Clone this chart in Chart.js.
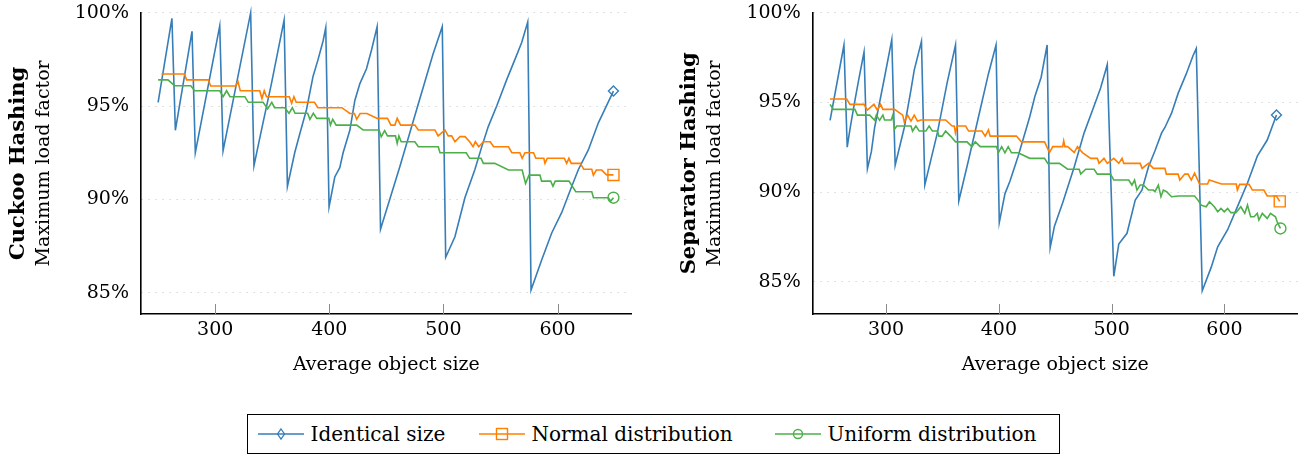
<!DOCTYPE html>
<html>
<head>
<meta charset="utf-8">
<script src="https://cdn.jsdelivr.net/npm/chart.js@4.4.0/dist/chart.umd.min.js"></script>
<style>
  body { margin: 0; background: #fff; width: 1307px; height: 457px; position: relative; overflow: hidden; font-family: "DejaVu Serif", serif; }
  #cuckooChart { position: absolute; left: 0; top: 0; }
  #separatorChart { position: absolute; left: 657px; top: 0; }
  #legend { position: absolute; left: 247px; top: 414px; width: 811px; height: 38px; border: 1.5px solid #000; }
  .item { position: absolute; top: 0; height: 38px; display: flex; align-items: center; font-size: 20px; white-space: nowrap; }
  .item svg { margin-right: 7px; }
</style>
</head>
<body>
<canvas id="cuckooChart" width="650" height="400"></canvas>
<canvas id="separatorChart" width="650" height="400"></canvas>
<div id="legend"></div>
<script>
// x ticks and y ticks
const xTickValues = [300, 400, 500, 600];
const yTickValues = [85, 90, 95, 100];
const seriesNames = ['Identical size', 'Normal distribution', 'Uniform distribution'];
const seriesColors = ['#377eb8', '#ff7f00', '#4daf4a'];

// Cuckoo Hashing: [average object size, maximum load factor %]
const cuckooIdentical = [[250,95.2],[262.1,99.7],[265.1,93.7],[279.7,99.0],[282.6,92.5],[304,99.3],[306.9,92.6],[331.1,100.0],[334,91.8],[340.5,93.7],[349.3,96.2],[360.4,99.6],[363.3,90.7],[369.7,92.5],[374.1,93.5],[380,94.8],[385.8,96.6],[390.2,97.5],[394.6,98.5],[396.9,99.2],[399.8,89.6],[404.8,91.2],[409.2,91.7],[412.1,92.5],[418,93.7],[422.4,95.3],[426.8,96.2],[432.6,97.0],[437,98.0],[441.9,99.25],[444.9,88.4],[461.8,91.75],[476.5,94.8],[491,97.8],[499,99.25],[502,86.9],[510.1,88.0],[518.9,90.1],[527.6,91.6],[533.5,92.8],[539.3,93.9],[546.7,95.0],[555.4,96.4],[562.7,97.5],[568.6,98.4],[573.9,99.5],[576.8,85.15],[586.1,86.75],[594.9,88.2],[603.7,89.3],[612.5,90.7],[618.3,91.6],[627,92.65],[635.8,94.1],[649,95.8]];
const cuckooNormal = [[253,96.72],[273,96.72],[275,96.4],[294,96.4],[296,96.07],[318,96.07],[320,96.3],[322,95.82],[339,95.82],[341,95.4],[343,95.82],[345,95.5],[365,95.5],[367,95.15],[369,95.5],[371,95.2],[387,95.2],[390,94.91],[411,94.91],[418,94.6],[422,94.6],[424,94.29],[427,94.6],[433,94.6],[442,94.34],[451,94.34],[454,93.98],[457.5,93.98],[459.5,94.34],[462.5,93.98],[475,93.98],[478,93.72],[492.5,93.72],[495.4,93.4],[501.3,93.72],[504.2,93.4],[507.2,93.4],[510.1,93.09],[514.5,93.36],[519,93.36],[523,93.09],[526,92.82],[528,93.09],[531,92.82],[535,93.09],[541,93.09],[544,92.82],[557,92.82],[560,92.5],[567,92.5],[569,92.2],[571.5,92.5],[579,92.5],[581,92.2],[588,92.2],[589,91.93],[591,92.2],[606,92.2],[608,91.93],[610,92.2],[612,91.93],[620,91.93],[623,91.61],[630,91.61],[631.4,91.3],[634,91.57],[638.7,91.57],[643,91.31],[649,91.31]];
const cuckooUniform = [[250,96.4],[258.6,96.4],[264.5,96.09],[278.6,96.09],[282,95.82],[304,95.82],[307,95.5],[310,95.82],[313,95.5],[326,95.5],[329,95.2],[342,95.2],[346,94.85],[349.6,95.2],[352,94.91],[361,94.91],[364.7,94.61],[367.6,94.91],[370,94.61],[381,94.61],[383,94.29],[386,94.61],[389,94.34],[399.6,94.34],[401,93.98],[403,94.29],[406,93.98],[424,93.98],[429.6,93.72],[443.6,93.72],[445.5,93.35],[448.5,93.68],[451,93.4],[458,93.4],[459.5,93.0],[461,93.4],[463,93.09],[475,93.09],[478,92.82],[495.5,92.82],[497,92.5],[520,92.5],[523,92.2],[533,92.2],[535,91.93],[545,91.93],[557,91.57],[569,91.57],[572,90.85],[575,91.3],[584.6,91.3],[586,90.98],[594,90.98],[596,90.7],[598,90.98],[610,90.98],[616,90.41],[630,90.41],[631.5,90.09],[644.6,90.09],[646.5,89.9],[649,90.09]];

// Separator Hashing
const separatorIdentical = [[250.4,94.0],[262.7,98.2],[265.6,92.5],[268,93.5],[272.4,95.1],[275.3,96.1],[280.5,97.8],[283.5,91.3],[287,92.25],[289.9,93.6],[298.7,96.4],[305.1,98.5],[308.1,91.5],[316.2,93.6],[322.1,95.7],[325,96.8],[331.4,98.4],[334.4,90.4],[345.5,93.3],[354.2,96.1],[361.6,98.2],[364.5,89.5],[373.2,91.8],[382,94.2],[390.8,96.6],[397.5,98.2],[400.4,88.3],[405.4,89.9],[409.8,90.6],[417.1,92.0],[427.4,94.2],[431.8,95.3],[437.5,96.4],[442.8,98.2],[445.5,86.9],[449.3,88.1],[456.6,89.4],[466.8,91.4],[475.6,93.3],[484.4,94.8],[490.2,95.8],[496.1,97.1],[501.9,85.3],[506.3,87.1],[513.6,87.7],[520.9,89.55],[526.8,90.1],[532.6,91.4],[538.4,92.3],[544.3,93.3],[547.2,93.6],[553.1,94.4],[558.9,95.5],[566.2,96.6],[572.1,97.6],[575,98.0],[580.3,84.5],[588.2,85.8],[594,86.95],[602.8,87.9],[611.6,89.2],[620.4,90.5],[629.1,92.0],[637.9,92.9],[646.1,94.3]];
const separatorNormal = [[250.4,95.19],[265.1,95.19],[268,94.89],[280.4,94.89],[283.5,94.57],[289.3,94.89],[292.3,94.57],[295.2,94.89],[297.2,94.61],[307.5,94.61],[314.8,94.29],[316.2,93.9],[319.1,94.29],[322.1,93.96],[325,94.29],[327.9,93.96],[330.9,94.02],[352.8,94.02],[358.6,93.68],[360.5,93.68],[361.5,93.3],[363,93.68],[370.6,93.68],[373.2,93.4],[384.9,93.4],[387.9,93.12],[390.8,93.46],[392.3,93.12],[415.6,93.12],[420,92.8],[440.5,92.8],[444.9,92.2],[447.8,92.53],[456.6,92.53],[457.5,92.85],[458.6,92.53],[461,92.53],[466.8,92.2],[469.7,92.53],[474.1,92.2],[481.4,91.88],[487.3,91.88],[488.8,91.6],[493.2,91.88],[496.1,91.6],[501.9,91.88],[506.3,91.6],[509.2,91.88],[510.7,91.6],[525.3,91.6],[527,91.32],[532.6,91.6],[537,91.32],[547.2,91.32],[548.5,91.0],[558.9,91.0],[560.4,90.67],[564.8,91.0],[567.7,91.0],[570.6,90.67],[573.5,91.05],[577.9,90.45],[585,90.45],[586.5,90.67],[597.4,90.45],[610.5,90.45],[611.4,90.11],[613.4,90.43],[621.8,90.43],[624.7,90.11],[634.9,90.11],[637.9,89.78],[646,89.78],[649,89.48]];
const separatorUniform = [[250.4,94.89],[253.3,94.61],[272.4,94.61],[274.7,94.29],[285.5,94.29],[289.9,94.0],[291.4,94.29],[294.3,94.0],[297.2,94.29],[298.7,94.02],[304.6,94.02],[306,94.29],[307.5,93.5],[309.5,93.68],[322.1,93.68],[323.5,93.4],[326.5,93.68],[329.4,93.4],[335.3,93.4],[338.2,93.68],[341.1,93.4],[345.5,93.4],[346.9,93.12],[349.8,93.12],[352.8,93.4],[357.2,93.12],[361.6,92.8],[371.8,92.8],[376.1,92.53],[379.1,92.8],[383.5,92.53],[398,92.53],[399.6,92.19],[402.5,92.53],[405.4,92.19],[408.3,92.53],[411.2,92.19],[417.1,92.19],[427.4,91.88],[440.5,91.88],[443.4,91.6],[453.7,91.6],[461,91.27],[471.2,91.27],[472.6,91.0],[477,91.27],[484.4,91.27],[487.3,91.0],[499,91.0],[501.9,90.67],[515.1,90.67],[518,90.39],[520.3,90.67],[522.4,90.11],[525.3,90.39],[528.2,90.39],[532.6,90.11],[537,90.11],[538.4,90.02],[541.4,90.39],[543.7,89.74],[545.8,90.11],[548.7,90.02],[553.1,89.74],[559,89.78],[573.5,89.78],[576.5,89.55],[579.4,89.27],[583.8,89.18],[586.7,89.46],[591,89.18],[594,88.9],[596.9,89.09],[599.8,88.9],[602.8,89.09],[605.7,88.85],[610.1,88.85],[614.5,89.18],[618,88.81],[620.4,89.27],[623.2,88.62],[626.2,88.62],[629.1,88.81],[630.5,88.44],[633.5,88.81],[637.9,88.53],[640.8,88.81],[645.2,88.62],[646.7,88.34],[649.6,87.97]];

const FONT = '"DejaVu Serif", serif';

// two-line rotated y title: bold name + normal label
const yTitles = {
    id: 'yTitles',
    afterDraw(chart, args, opts) {
        const ctx = chart.ctx;
        const cy = (chart.chartArea.top + chart.chartArea.bottom) / 2;
        ctx.save();
        ctx.fillStyle = '#000';
        ctx.textAlign = 'center';
        ctx.textBaseline = 'middle';
        ctx.translate(opts.boldX, cy);
        ctx.rotate(-Math.PI / 2);
        ctx.font = 'bold 21px ' + FONT;
        ctx.fillText(opts.name, 0, 0);
        ctx.restore();
        ctx.save();
        ctx.fillStyle = '#000';
        ctx.textAlign = 'center';
        ctx.textBaseline = 'middle';
        ctx.translate(opts.plainX, cy);
        ctx.rotate(-Math.PI / 2);
        ctx.font = '19px ' + FONT;
        ctx.fillText('Maximum load factor', 0, 0);
        ctx.restore();
    }
};

// small tick marks pointing up into the plot
const innerTicks = {
    id: 'innerTicks',
    beforeDatasetsDraw(chart) {
        const {ctx, chartArea, scales: {x}} = chart;
        ctx.save();
        ctx.strokeStyle = '#8a8a8a';
        ctx.lineWidth = 1;
        x.ticks.forEach(t => {
            const px = Math.round(x.getPixelForValue(t.value)) + 0.5;
            ctx.beginPath();
            ctx.moveTo(px, chartArea.bottom);
            ctx.lineTo(px, chartArea.bottom - 10);
            ctx.stroke();
        });
        ctx.restore();
    }
};

function dataset(i, pairs, style, radius) {
    return {
        label: seriesNames[i],
        data: pairs.map(([x, y]) => ({x, y})),
        borderColor: seriesColors[i],
        backgroundColor: seriesColors[i],
        borderWidth: 1.6,
        pointStyle: style,
        pointRadius: c => c.dataIndex === pairs.length - 1 ? radius : 0,
        pointHoverRadius: 0,
        pointBorderColor: seriesColors[i],
        pointBackgroundColor: 'rgba(0,0,0,0)',
        pointBorderWidth: 1.4,
        tension: 0,
        clip: false,
        order: 3 - i
    };
}

function makeChart(id, identical, normal, uniform, yMin, name, boldX, plainX, axisWidth, padRight) {
    new Chart(document.getElementById(id), {
        type: 'line',
        data: {
            datasets: [
                dataset(0, identical, 'rectRot', 5),
                dataset(1, normal, 'rect', 7.8),
                dataset(2, uniform, 'circle', 5.5)
            ]
        },
        plugins: [yTitles, innerTicks],
        options: {
            responsive: false,
            animation: false,
            devicePixelRatio: 1,
            layout: { padding: { left: 0, right: padRight, top: 12.7, bottom: 0 } },
            plugins: {
                legend: { display: false },
                tooltip: { enabled: false },
                yTitles: { name: name, boldX: boldX, plainX: plainX }
            },
            scales: {
                x: {
                    type: 'linear',
                    min: 235,
                    max: 665,
                    afterBuildTicks: s => { s.ticks = xTickValues.map(v => ({value: v})); },
                    afterFit: s => { s.height = 86; s.paddingLeft = 0; s.paddingRight = 0; },
                    grid: { display: false, drawTicks: false },
                    border: { display: true, color: '#000', width: 1.6 },
                    ticks: { color: '#000', padding: 5, font: { family: FONT, size: 19 } },
                    title: {
                        display: true,
                        text: 'Average object size',
                        color: '#000',
                        font: { family: FONT, size: 19 },
                        padding: { top: 0, bottom: 23.6 }
                    }
                },
                y: {
                    min: yMin,
                    max: 100,
                    afterBuildTicks: s => { s.ticks = yTickValues.map(v => ({value: v})); },
                    afterFit: s => { s.width = axisWidth; s.paddingTop = 0; s.paddingBottom = 0; },
                    grid: { color: '#c4c4c4', lineWidth: 1, drawTicks: false },
                    border: { display: true, color: '#000', width: 1.6, dash: [1, 6] },
                    ticks: { color: '#000', padding: 12, font: { family: FONT, size: 19 }, callback: v => v + '%' }
                }
            }
        }
    });
}

makeChart('cuckooChart', cuckooIdentical, cuckooNormal, cuckooUniform, 83.86, 'Cuckoo Hashing', 19, 44, 141, 18.3);
makeChart('separatorChart', separatorIdentical, separatorNormal, separatorUniform, 83.2, 'Separator Hashing', 33, 58, 155.7, 4);

// legend below both charts
const legendMarks = [
    '<polygon points="23,3 26.5,8 23,13 19.5,8" fill="none" stroke="#377eb8" stroke-width="1.3"/>',
    '<rect x="17.5" y="2.5" width="11" height="11" fill="none" stroke="#ff7f00" stroke-width="1.4"/>',
    '<circle cx="23" cy="8" r="4.5" fill="none" stroke="#4daf4a" stroke-width="1.4"/>'
];
const legendLeft = [9.5, 230.5, 526.5];
const legend = document.getElementById('legend');
seriesNames.forEach((n, i) => {
    const el = document.createElement('div');
    el.className = 'item';
    el.style.left = legendLeft[i] + 'px';
    el.innerHTML = '<svg width="46" height="16"><line x1="0" y1="8" x2="46" y2="8" stroke="' + seriesColors[i] + '" stroke-width="1.6"/>' + legendMarks[i] + '</svg><span>' + n + '</span>';
    legend.appendChild(el);
});
</script>
</body>
</html>
